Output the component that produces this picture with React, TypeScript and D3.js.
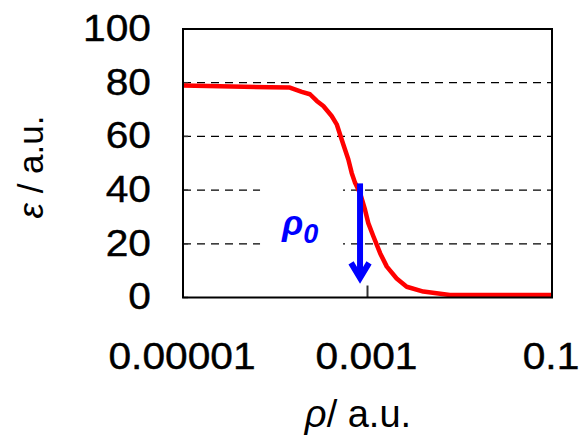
import React from "react";
import * as d3 from "d3";

// Permittivity-like response ε against density ρ (log axis)
const rhoValues = [
  1e-5, 8.8e-5, 1.44e-4, 1.94e-4, 2.38e-4, 2.82e-4, 3.32e-4, 4.09e-4, 4.64e-4,
  5.04e-4, 5.47e-4, 6.2e-4, 6.74e-4, 7.33e-4, 7.95e-4, 8.3e-4, 9.4e-4, 1.02e-3,
  1.16e-3, 1.37e-3, 1.62e-3, 2.07e-3, 2.66e-3, 4.03e-3, 7.8e-3, 0.1,
];
const epsValues = [
  79.0, 78.3, 78.2, 76.6, 75.7, 73.2, 71.3, 67.6, 64.5, 60.7, 57.0, 51.4, 46.4,
  42.7, 40.2, 39.0, 32.7, 27.7, 22.7, 16.5, 11.5, 7.1, 4.0, 2.2, 0.9, 0.9,
];

const xTickValues = [1e-5, 1e-3, 1e-1];
const xTickLabels = ["0.00001", "0.001", "0.1"];
const yTickValues = [0, 20, 40, 60, 80, 100];
const gridValues = [20, 40, 60, 80];

// Marker for the threshold ρ0
const rho0 = 8.3e-4;
const arrowFrom = 42.5;
const arrowTo = 7.3;

const W = 581;
const H = 439;
const left = 183;
const right = 552;
const top = 29;
const bottom = 297.5;

const FONT = "'Liberation Sans', Arial, Helvetica, sans-serif";

export default function App() {
  const x = d3.scaleLog().domain([1e-5, 0.1]).range([left, right]);
  const y = d3.scaleLinear().domain([0, 100]).range([bottom, top]);

  const data = rhoValues.map((r, i) => ({ r, e: epsValues[i] }));
  const line = d3
    .line<{ r: number; e: number }>()
    .x((d) => x(d.r))
    .y((d) => y(d.e));

  const ax = x(rho0);
  const ayTop = y(arrowFrom);
  const ayTip = y(arrowTo);

  return (
    <svg
      width={W}
      height={H}
      style={{ position: "absolute", left: 0, top: 0, background: "#fff" }}
      fontFamily={FONT}
    >
      <rect x={0} y={0} width={W} height={H} fill="#fff" />

      {/* dashed gridlines */}
      {gridValues.map((v) => (
        <line
          key={v}
          x1={left}
          x2={right}
          y1={y(v)}
          y2={y(v)}
          stroke="#000"
          strokeWidth={1.2}
          strokeDasharray="8,6"
        />
      ))}

      {/* inward ticks */}
      {yTickValues.map((v) => (
        <line key={v} x1={left} x2={left + 5} y1={y(v)} y2={y(v)} stroke="#333" strokeWidth={1.5} />
      ))}
      {xTickValues.map((v) => (
        <line key={v} x1={x(v)} x2={x(v)} y1={bottom} y2={bottom - 12} stroke="#333" strokeWidth={2} />
      ))}

      {/* label box for ρ0 */}
      <rect x={ax - 100} y={y(41.5)} width={83} height={y(19) - y(41.5)} fill="#fff" />
      <text
        x={ax - 78}
        y={235}
        fill="#0000ff"
        fontWeight="bold"
        fontStyle="italic"
        fontSize={35}
      >
        ρ<tspan fontSize={27} dy={8}>0</tspan>
      </text>

      {/* curve */}
      <path d={line(data) ?? ""} fill="none" stroke="#ff0000" strokeWidth={4.5} strokeLinejoin="round" />

      {/* arrow */}
      <line x1={ax} x2={ax} y1={ayTop} y2={ayTip - 2} stroke="#0000ff" strokeWidth={6} />
      <polyline
        points={`${ax - 9},${ayTip - 15} ${ax},${ayTip} ${ax + 9},${ayTip - 15}`}
        fill="none"
        stroke="#0000ff"
        strokeWidth={6}
        strokeLinejoin="miter"
      />

      {/* frame */}
      <rect x={left} y={top} width={right - left} height={bottom - top} fill="none" stroke="#000" strokeWidth={2} />

      {/* y tick labels */}
      {yTickValues.map((v) => (
        <g key={v} transform={`translate(151,${y(v) - 1}) scale(1.1,1)`}>
          <text
            textAnchor="end"
            dominantBaseline="central"
            fontSize={37}
            fill="#000"
            stroke="#000"
            strokeWidth={0.4}
          >
            {v}
          </text>
        </g>
      ))}

      {/* x tick labels */}
      {xTickValues.map((v, i) => (
        <g key={v} transform={`translate(${x(v) - 1},369) scale(1.1,1)`}>
          <text textAnchor="middle" fontSize={37} fill="#000" stroke="#000" strokeWidth={0.4}>
            {xTickLabels[i]}
          </text>
        </g>
      ))}

      {/* axis titles */}
      <text
        transform={`translate(43,167) rotate(-90)`}
        textAnchor="middle"
        fontSize={35}
        fill="#000"
      >
        <tspan fontStyle="italic">ε</tspan> / a.u.
      </text>
      <text x={358} y={427} textAnchor="middle" fontSize={38} fill="#000">
        <tspan fontStyle="italic">ρ</tspan>/ a.u.
      </text>
    </svg>
  );
}
